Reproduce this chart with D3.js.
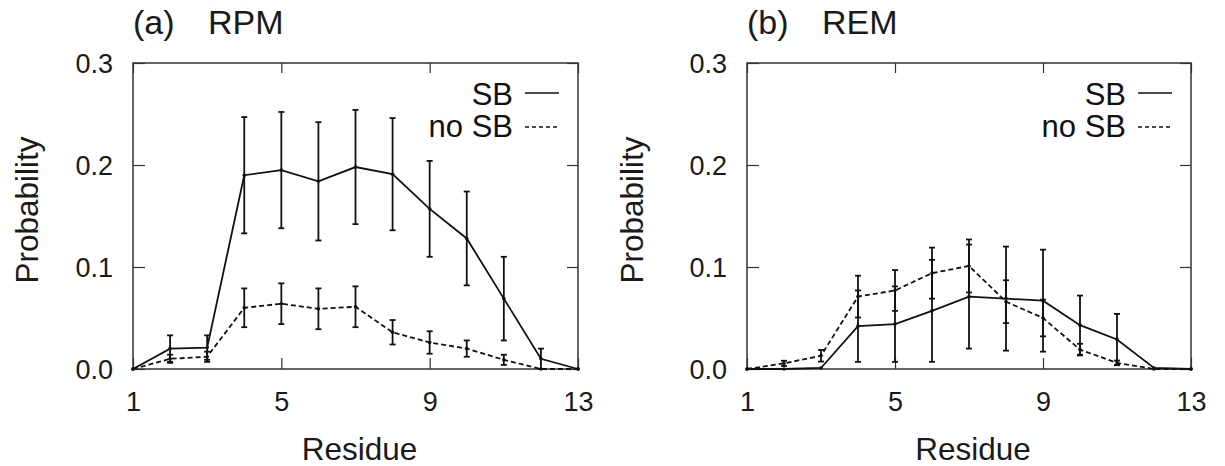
<!DOCTYPE html>
<html>
<head>
<meta charset="utf-8">
<script src="https://cdn.jsdelivr.net/npm/d3@7"></script>
<style>
  body { margin: 0; background: #fff; }
  svg { display: block; font-family: "Liberation Sans", Arial, sans-serif; }
  .axis path { display: none; }
  .axis line { stroke: #333; stroke-width: 1.2; }
  .axis text { fill: #1a1a1a; font-size: 27px; }
</style>
</head>
<body>
<svg id="chart" width="1225" height="466"></svg>
<script>
// residue numbers along the peptide
var residues = [1, 2, 3, 4, 5, 6, 7, 8, 9, 10, 11, 12, 13];
var xTicks = [1, 5, 9, 13];
var yTicks = [0, 0.1, 0.2, 0.3];

// (a) RPM
var rpmSB      = [0, 0.020, 0.021, 0.190, 0.195, 0.184, 0.198, 0.191, 0.157, 0.128, 0.069, 0.010, 0];
var rpmSBErr   = [0, 0.013, 0.012, 0.057, 0.057, 0.058, 0.056, 0.055, 0.047, 0.046, 0.041, 0.010, 0];
var rpmNoSB    = [0, 0.010, 0.012, 0.060, 0.064, 0.059, 0.061, 0.036, 0.026, 0.020, 0.009, 0, 0];
var rpmNoSBErr = [0, 0.004, 0.005, 0.019, 0.020, 0.020, 0.020, 0.012, 0.011, 0.008, 0.005, 0, 0];

// (b) REM
var remSB      = [0, 0, 0.001, 0.042, 0.044, 0.057, 0.071, 0.069, 0.067, 0.043, 0.029, 0.001, 0];
var remSBErr   = [0, 0, 0, 0.035, 0.037, 0.050, 0.051, 0.051, 0.050, 0.029, 0.025, 0, 0];
var remNoSB    = [0, 0.0055, 0.013, 0.071, 0.077, 0.094, 0.101, 0.066, 0.050, 0.019, 0.006, 0, 0];
var remNoSBErr = [0, 0.0026, 0.0057, 0.0205, 0.020, 0.025, 0.026, 0.021, 0.018, 0.0057, 0.0023, 0, 0];

var svg = d3.select("#chart");

function drawPanel(opt) {
  var x = d3.scaleLinear().domain([1, 13]).range([opt.left, opt.right]);
  var y = d3.scaleLinear().domain([0, 0.3]).range([opt.bottom, opt.top]);
  var g = svg.append("g");

  // inward ticks on all four sides, labels only bottom/left
  g.append("g").attr("class", "axis xb")
    .attr("transform", "translate(0," + opt.bottom + ")")
    .call(d3.axisBottom(x).tickValues(xTicks).tickSize(-11).tickPadding(23).tickFormat(d3.format("d")));
  g.append("g").attr("class", "axis")
    .attr("transform", "translate(0," + opt.top + ")")
    .call(d3.axisTop(x).tickValues(xTicks).tickSize(-10).tickFormat(""));
  g.append("g").attr("class", "axis yl")
    .attr("transform", "translate(" + opt.left + ",0)")
    .call(d3.axisLeft(y).tickValues(yTicks).tickSize(-12).tickPadding(20).tickFormat(d3.format(".1f")));
  g.append("g").attr("class", "axis")
    .attr("transform", "translate(" + opt.right + ",0)")
    .call(d3.axisRight(y).tickValues(yTicks).tickSize(-11).tickFormat(""));

  g.selectAll(".xb text").attr("dy", "0.71em");
  g.selectAll(".yl text").attr("dy", "0.36em");

  g.append("rect")
    .attr("x", opt.left).attr("y", opt.top)
    .attr("width", opt.right - opt.left).attr("height", opt.bottom - opt.top)
    .attr("fill", "none").attr("stroke", "#333").attr("stroke-width", 1.5);

  var line = d3.line()
    .x(function(d) { return x(d.r); })
    .y(function(d) { return y(d.v); });

  opt.series.forEach(function(s) {
    var pts = residues.map(function(r, i) { return { r: r, v: s.vals[i], e: s.errs[i] }; });

    g.append("path").datum(pts)
      .attr("d", line)
      .attr("fill", "none").attr("stroke", "#111").attr("stroke-width", 1.8)
      .attr("stroke-dasharray", s.dash);

    var eb = g.append("g").selectAll("g").data(pts.filter(function(d) { return d.e > 0; }))
      .enter().append("g");
    eb.append("line")
      .attr("x1", function(d) { return x(d.r); }).attr("x2", function(d) { return x(d.r); })
      .attr("y1", function(d) { return y(d.v - d.e); }).attr("y2", function(d) { return y(d.v + d.e); })
      .attr("stroke", "#111").attr("stroke-width", 1.8);
    [-1, 1].forEach(function(sign) {
      eb.append("line")
        .attr("x1", function(d) { return x(d.r) - 3; }).attr("x2", function(d) { return x(d.r) + 3; })
        .attr("y1", function(d) { return y(d.v + sign * d.e); })
        .attr("y2", function(d) { return y(d.v + sign * d.e); })
        .attr("stroke", "#111").attr("stroke-width", 1.8);
    });

    g.append("g").selectAll("circle").data(pts).enter().append("circle")
      .attr("cx", function(d) { return x(d.r); })
      .attr("cy", function(d) { return y(d.v); })
      .attr("r", 1.8).attr("fill", "#111");
  });

  // legend
  var legend = [
    { label: "SB", dash: null, base: 105, ly: 93 },
    { label: "no SB", dash: "4,3", base: 137, ly: 127 }
  ];
  legend.forEach(function(l) {
    g.append("text")
      .attr("x", opt.legendX).attr("y", l.base)
      .attr("text-anchor", "end").attr("font-size", 31).attr("fill", "#111")
      .text(l.label);
    g.append("line")
      .attr("x1", opt.legendX + 12).attr("x2", opt.legendX + 46)
      .attr("y1", l.ly).attr("y2", l.ly)
      .attr("stroke", "#111").attr("stroke-width", 1.3)
      .attr("stroke-dasharray", l.dash);
  });

  // title and axis labels
  g.append("text").attr("x", opt.left).attr("y", 34)
    .attr("font-size", 34).attr("fill", "#1a1a1a").text(opt.tag);
  g.append("text").attr("x", opt.left + 75).attr("y", 34)
    .attr("font-size", 34).attr("fill", "#1a1a1a").text(opt.title);
  g.append("text")
    .attr("x", (opt.left + opt.right) / 2 + 4).attr("y", 460)
    .attr("text-anchor", "middle").attr("font-size", 31.5).attr("fill", "#1a1a1a")
    .text("Residue");
  g.append("text")
    .attr("transform", "translate(" + opt.ylabX + "," + ((opt.top + opt.bottom) / 2 - 6) + ") rotate(-90)")
    .attr("text-anchor", "middle").attr("font-size", 31.5).attr("fill", "#1a1a1a")
    .text("Probability");
}

drawPanel({
  left: 133, right: 578, top: 63, bottom: 369,
  legendX: 513, ylabX: 38, tag: "(a)", title: "RPM",
  series: [
    { vals: rpmSB, errs: rpmSBErr, dash: null },
    { vals: rpmNoSB, errs: rpmNoSBErr, dash: "5,3" }
  ]
});

drawPanel({
  left: 747, right: 1191, top: 63, bottom: 369,
  legendX: 1126, ylabX: 643, tag: "(b)", title: "REM",
  series: [
    { vals: remSB, errs: remSBErr, dash: null },
    { vals: remNoSB, errs: remNoSBErr, dash: "5,3" }
  ]
});
</script>
</body>
</html>
